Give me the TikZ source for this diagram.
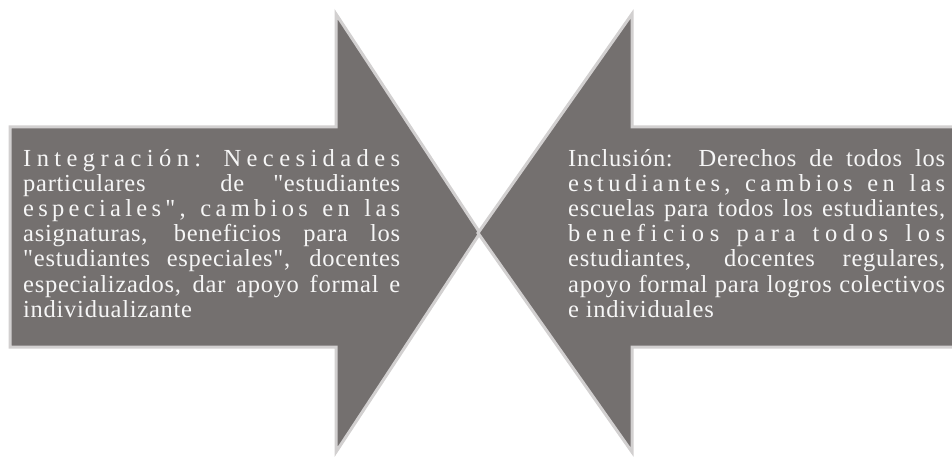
\documentclass[tikz,border=0pt]{standalone}
\usepackage{fontspec}
\setmainfont{Liberation Serif}[Ligatures=TeXOff, LetterSpace=3]
\makeatletter
\newcommand\spreadword[1]{\@tfor\spreadchar:=#1\do{\spreadchar\hskip 0pt plus 1fil}\unskip}
\makeatother
\newcommand\wgap[1]{\hskip 6pt plus #1fil}
\definecolor{arrowfill}{RGB}{116,112,111}
\definecolor{arrowedge}{RGB}{210,208,208}
\definecolor{txt}{RGB}{246,246,246}
\begin{document}
\begin{tikzpicture}[x=1pt,y=-1pt,
  arrowshape/.style={fill=arrowfill, draw=arrowedge, line width=3pt, line join=miter},
  linetext/.style={anchor=base west, inner sep=0pt, text=txt, font=\fontsize{24.5}{25}\selectfont}]
\useasboundingbox (0,0) rectangle (952,457);
\clip (0,0) rectangle (952,457);
% left arrow (Integración)
\draw[arrowshape] (10,127) -- (336,127) -- (336,14) -- (480,233) -- (336,452) -- (336,347) -- (10,347) -- cycle;
% right arrow (Inclusión)
\draw[arrowshape] (962,127) -- (632,127) -- (632,14) -- (478,233) -- (632,452) -- (632,347) -- (962,347) -- cycle;
% left text
\node[linetext] (l1) at (23,166.5) {\makebox[377pt][s]{\spreadword{Integración:}\wgap{3}\spreadword{Necesidades}}};
\node[linetext] (l2) at (23,191.6) {\makebox[377pt][s]{particulares\hskip 6pt plus 3fil de\hskip 6pt plus 1fil"estudiantes}};
\node[linetext] (l3) at (23,216.7) {\makebox[377pt][s]{\spreadword{especiales",}\wgap{2}\spreadword{cambios}\wgap{2}\spreadword{en}\wgap{2}\spreadword{las}}};
\node[linetext] (l4) at (23,241.8) {\makebox[377pt][s]{asignaturas, beneficios para los}};
\node[linetext] (l5) at (23,266.9) {\makebox[377pt][s]{"estudiantes especiales", docentes}};
\node[linetext] (l6) at (23,292) {\makebox[377pt][s]{especializados, dar apoyo formal e}};
\node[linetext] (l7) at (23,317.1) {individualizante};
% right text
\node[linetext] (r1) at (568,166.5) {\makebox[377pt][s]{Inclusión:\ \ Derechos de todos los}};
\node[linetext] (r2) at (568,191.6) {\makebox[377pt][s]{\spreadword{estudiantes,}\wgap{2}\spreadword{cambios}\wgap{2}\spreadword{en}\wgap{2}\spreadword{las}}};
\node[linetext] (r3) at (568,216.7) {\makebox[377pt][s]{escuelas para todos los estudiantes,}};
\node[linetext] (r4) at (568,241.8) {\makebox[377pt][s]{\spreadword{beneficios}\wgap{2}\spreadword{para}\wgap{2}\spreadword{todos}\wgap{2}\spreadword{los}}};
\node[linetext] (r5) at (568,266.9) {\makebox[377pt][s]{estudiantes, docentes regulares,}};
\node[linetext] (r6) at (568,292) {\makebox[377pt][s]{apoyo formal para logros colectivos}};
\node[linetext] (r7) at (568,317.1) {e individuales};
\end{tikzpicture}
\end{document}
